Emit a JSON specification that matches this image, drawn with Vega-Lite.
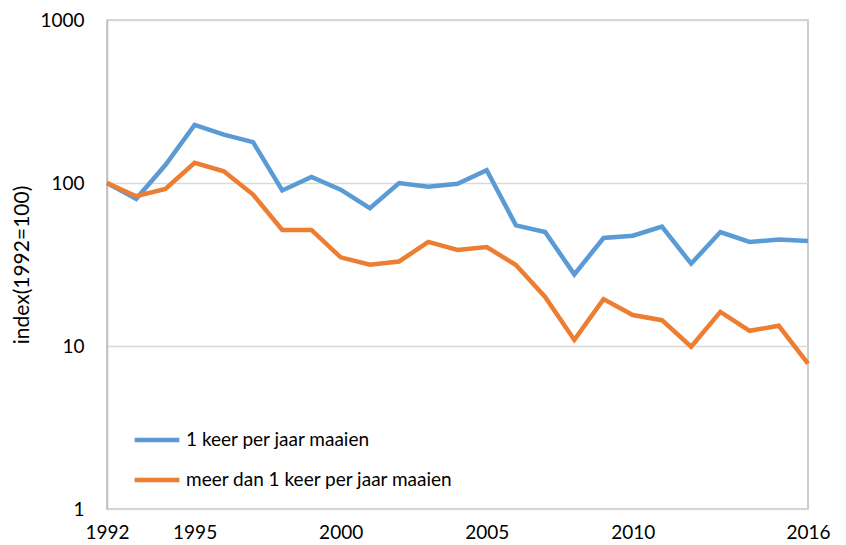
{
  "$schema": "https://vega.github.io/schema/vega-lite/v6.json",
  "autosize": "none",
  "width": 701,
  "height": 489,
  "padding": {"left": 107, "top": 20, "right": 38, "bottom": 36},
  "background": "white",
  "config": {
    "font": "Lato",
    "view": {"stroke": "#bfbfbf", "strokeWidth": 1.5}
  },
  "data": {
    "values": [
      {"jaar": 1992, "serie": "1 keer per jaar maaien", "index": 100},
      {"jaar": 1993, "serie": "1 keer per jaar maaien", "index": 80},
      {"jaar": 1994, "serie": "1 keer per jaar maaien", "index": 129},
      {"jaar": 1995, "serie": "1 keer per jaar maaien", "index": 227},
      {"jaar": 1996, "serie": "1 keer per jaar maaien", "index": 198},
      {"jaar": 1997, "serie": "1 keer per jaar maaien", "index": 178},
      {"jaar": 1998, "serie": "1 keer per jaar maaien", "index": 90},
      {"jaar": 1999, "serie": "1 keer per jaar maaien", "index": 109},
      {"jaar": 2000, "serie": "1 keer per jaar maaien", "index": 91},
      {"jaar": 2001, "serie": "1 keer per jaar maaien", "index": 70},
      {"jaar": 2002, "serie": "1 keer per jaar maaien", "index": 100},
      {"jaar": 2003, "serie": "1 keer per jaar maaien", "index": 95},
      {"jaar": 2004, "serie": "1 keer per jaar maaien", "index": 99},
      {"jaar": 2005, "serie": "1 keer per jaar maaien", "index": 120},
      {"jaar": 2006, "serie": "1 keer per jaar maaien", "index": 55},
      {"jaar": 2007, "serie": "1 keer per jaar maaien", "index": 50},
      {"jaar": 2008, "serie": "1 keer per jaar maaien", "index": 27.5},
      {"jaar": 2009, "serie": "1 keer per jaar maaien", "index": 46},
      {"jaar": 2010, "serie": "1 keer per jaar maaien", "index": 47.5},
      {"jaar": 2011, "serie": "1 keer per jaar maaien", "index": 54},
      {"jaar": 2012, "serie": "1 keer per jaar maaien", "index": 32},
      {"jaar": 2013, "serie": "1 keer per jaar maaien", "index": 50},
      {"jaar": 2014, "serie": "1 keer per jaar maaien", "index": 43.5},
      {"jaar": 2015, "serie": "1 keer per jaar maaien", "index": 45},
      {"jaar": 2016, "serie": "1 keer per jaar maaien", "index": 44},
      {"jaar": 1992, "serie": "meer dan 1 keer per jaar maaien", "index": 100},
      {"jaar": 1993, "serie": "meer dan 1 keer per jaar maaien", "index": 83},
      {"jaar": 1994, "serie": "meer dan 1 keer per jaar maaien", "index": 92},
      {"jaar": 1995, "serie": "meer dan 1 keer per jaar maaien", "index": 133},
      {"jaar": 1996, "serie": "meer dan 1 keer per jaar maaien", "index": 118},
      {"jaar": 1997, "serie": "meer dan 1 keer per jaar maaien", "index": 85},
      {"jaar": 1998, "serie": "meer dan 1 keer per jaar maaien", "index": 51.5},
      {"jaar": 1999, "serie": "meer dan 1 keer per jaar maaien", "index": 51.5},
      {"jaar": 2000, "serie": "meer dan 1 keer per jaar maaien", "index": 35},
      {"jaar": 2001, "serie": "meer dan 1 keer per jaar maaien", "index": 31.5},
      {"jaar": 2002, "serie": "meer dan 1 keer per jaar maaien", "index": 33},
      {"jaar": 2003, "serie": "meer dan 1 keer per jaar maaien", "index": 43.5},
      {"jaar": 2004, "serie": "meer dan 1 keer per jaar maaien", "index": 38.8},
      {"jaar": 2005, "serie": "meer dan 1 keer per jaar maaien", "index": 40.5},
      {"jaar": 2006, "serie": "meer dan 1 keer per jaar maaien", "index": 31.4},
      {"jaar": 2007, "serie": "meer dan 1 keer per jaar maaien", "index": 20},
      {"jaar": 2008, "serie": "meer dan 1 keer per jaar maaien", "index": 10.9},
      {"jaar": 2009, "serie": "meer dan 1 keer per jaar maaien", "index": 19.4},
      {"jaar": 2010, "serie": "meer dan 1 keer per jaar maaien", "index": 15.5},
      {"jaar": 2011, "serie": "meer dan 1 keer per jaar maaien", "index": 14.4},
      {"jaar": 2012, "serie": "meer dan 1 keer per jaar maaien", "index": 9.9},
      {"jaar": 2013, "serie": "meer dan 1 keer per jaar maaien", "index": 16.2},
      {"jaar": 2014, "serie": "meer dan 1 keer per jaar maaien", "index": 12.4},
      {"jaar": 2015, "serie": "meer dan 1 keer per jaar maaien", "index": 13.3},
      {"jaar": 2016, "serie": "meer dan 1 keer per jaar maaien", "index": 7.8}
    ]
  },
  "mark": {"type": "line", "strokeWidth": 4.5, "strokeJoin": "miter", "strokeCap": "butt"},
  "encoding": {
    "x": {
      "field": "jaar",
      "type": "quantitative",
      "scale": {"domain": [1992, 2016], "nice": false, "zero": false},
      "axis": {
        "values": [1992, 1995, 2000, 2005, 2010, 2016],
        "format": "d",
        "title": null,
        "grid": false,
        "domain": false,
        "ticks": false,
        "labelFlush": false,
        "labelOverlap": false,
        "labelPadding": 14,
        "labelFontSize": 19,
        "labelColor": "#000000",
        "labelFont": "Lato"
      }
    },
    "y": {
      "field": "index",
      "type": "quantitative",
      "scale": {"type": "log", "domain": [1, 1000], "nice": false},
      "axis": {
        "values": [1, 10, 100, 1000],
        "format": "d",
        "title": "index(1992=100)",
        "titleFontSize": 21,
        "titleFontWeight": "normal",
        "titleColor": "#000000",
        "titleFont": "Lato",
        "titlePadding": 7,
        "grid": true,
        "gridColor": "#d9d9d9",
        "gridWidth": 1.5,
        "domainColor": "#bfbfbf",
        "domainWidth": 1.5,
        "ticks": false,
        "labelFlush": false,
        "labelPadding": 23,
        "labelFontSize": 19,
        "labelColor": "#000000",
        "labelFont": "Lato"
      }
    },
    "color": {
      "field": "serie",
      "type": "nominal",
      "scale": {
        "domain": ["1 keer per jaar maaien", "meer dan 1 keer per jaar maaien"],
        "range": ["#5b9bd5", "#ed7d31"]
      },
      "legend": {
        "title": null,
        "orient": "none",
        "legendX": 25,
        "legendY": 395,
        "symbolType": "stroke",
        "symbolSize": 2000,
        "symbolStrokeWidth": 4.5,
        "labelFontSize": 19,
        "labelColor": "#000000",
        "labelFont": "Lato",
        "labelLimit": 0,
        "rowPadding": 5,
        "labelOffset": 4
      }
    }
  }
}
